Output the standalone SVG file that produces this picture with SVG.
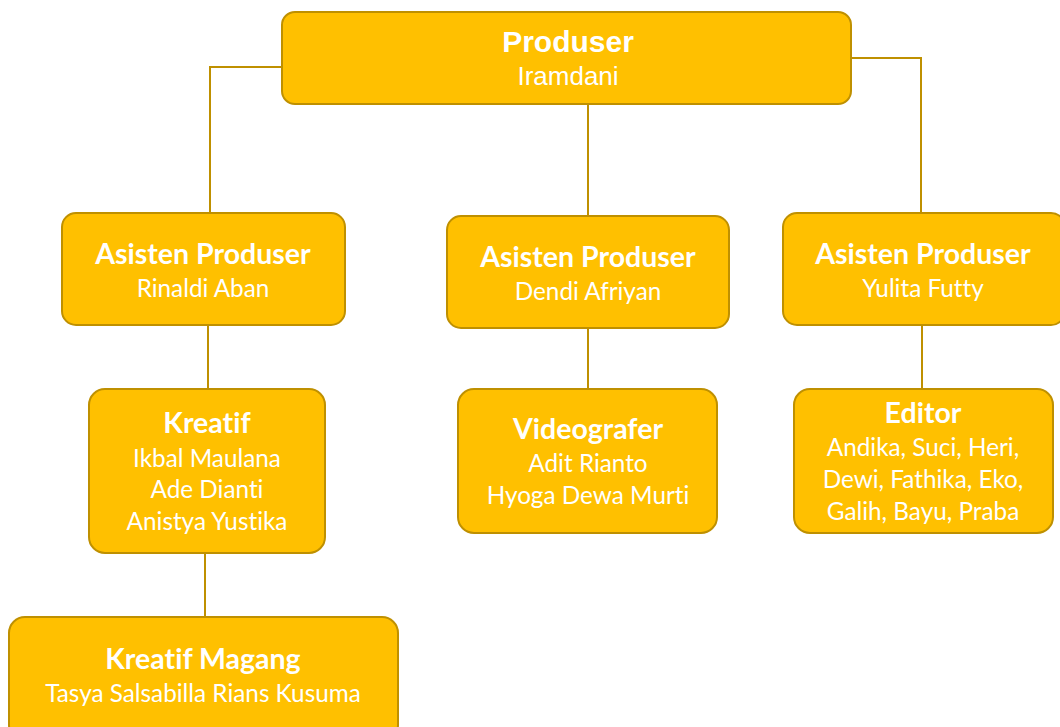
<svg xmlns="http://www.w3.org/2000/svg" width="1060" height="727" viewBox="0 0 1060 727">
  <style>
    .box { fill: #FFC000; stroke: #BF9000; stroke-width: 2; }
    .link { fill: none; stroke: #BF9000; stroke-width: 2; }
    .t { fill: #FFFFFF; text-anchor: middle; font-family: Lato, "Open Sans", sans-serif; font-variant-ligatures: none; }
    .h { font-weight: bold; font-size: 28.5px; }
    .n { font-size: 24.3px; }
    .ph { font-family: "Liberation Sans", Arial, sans-serif; font-weight: bold; font-size: 30px; }
    .pn { font-family: "Liberation Sans", Arial, sans-serif; font-size: 26px; }
  </style>
  <rect width="1060" height="727" fill="#FFFFFF"/>

  <!-- connectors -->
  <g id="connectors">
    <path class="link" d="M282 67 H210 V213"/>
    <path class="link" d="M588 104 V216"/>
    <path class="link" d="M851 58 H921 V213"/>
    <path class="link" d="M208 325 V389"/>
    <path class="link" d="M588 328 V389"/>
    <path class="link" d="M922 325 V389"/>
    <path class="link" d="M205 553 V617"/>
  </g>

  <g id="produser">
    <rect class="box" x="282" y="12" width="569" height="92" rx="13"/>
    <text class="t ph" x="568" y="52">Produser</text>
    <text class="t pn" x="568" y="85">Iramdani</text>
  </g>

  <g id="asisten-1">
    <rect class="box" x="62" y="213" width="283" height="112" rx="14"/>
    <text class="t h" x="203" y="264">Asisten Produser</text>
    <text class="t n" x="203" y="297">Rinaldi Aban</text>
  </g>

  <g id="asisten-2">
    <rect class="box" x="447" y="216" width="282" height="112" rx="14"/>
    <text class="t h" x="588" y="267">Asisten Produser</text>
    <text class="t n" x="588" y="300">Dendi Afriyan</text>
  </g>

  <g id="asisten-3">
    <rect class="box" x="783" y="213" width="282" height="112" rx="14"/>
    <text class="t h" x="923" y="264">Asisten Produser</text>
    <text class="t n" x="923" y="297">Yulita Futty</text>
  </g>

  <g id="kreatif">
    <rect class="box" x="89" y="389" width="236" height="164" rx="16"/>
    <text class="t h" x="207" y="433">Kreatif</text>
    <text class="t n" x="207" y="467">Ikbal Maulana</text>
    <text class="t n" x="207" y="498">Ade Dianti</text>
    <text class="t n" x="207" y="530">Anistya Yustika</text>
  </g>

  <g id="videografer">
    <rect class="box" x="458" y="389" width="259" height="144" rx="16"/>
    <text class="t h" x="588" y="439">Videografer</text>
    <text class="t n" x="588" y="472">Adit Rianto</text>
    <text class="t n" x="588" y="504">Hyoga Dewa Murti</text>
  </g>

  <g id="editor">
    <rect class="box" x="794" y="389" width="259" height="144" rx="16"/>
    <text class="t h" x="923" y="423">Editor</text>
    <text class="t n" x="923" y="456">Andika, Suci, Heri,</text>
    <text class="t n" x="923" y="488">Dewi, Fathika, Eko,</text>
    <text class="t n" x="923" y="520">Galih, Bayu, Praba</text>
  </g>

  <g id="kreatif-magang">
    <rect class="box" x="9" y="617" width="389" height="124" rx="16"/>
    <text class="t h" x="203" y="669">Kreatif Magang</text>
    <text class="t n" x="203" y="702">Tasya Salsabilla Rians Kusuma</text>
  </g>
</svg>
